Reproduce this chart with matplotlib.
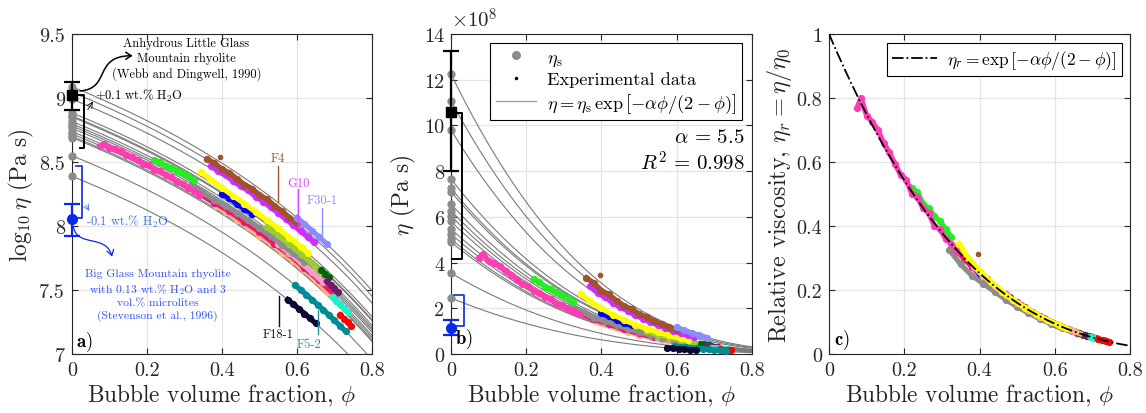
import numpy as np
import matplotlib

matplotlib.use("Agg")
import matplotlib.pyplot as plt
from matplotlib.lines import Line2D
from matplotlib.patches import FancyArrowPatch
from matplotlib.path import Path
from matplotlib.ticker import FormatStrFormatter, MultipleLocator

plt.rcParams["font.family"] = "cmr10"
plt.rcParams["mathtext.fontset"] = "cm"
plt.rcParams["axes.formatter.use_mathtext"] = True

ALPHA = 5.5
R2 = 0.998

# eta_s of each fitted sample, in 1e8 Pa s
ETA_S = [12.25, 11.08, 9.8, 7.66, 7.25, 7.1, 6.56, 6.27, 6.04, 5.8, 5.47,
         5.25, 5.03, 4.9, 3.54, 2.45]

# literature melt viscosities (1e8 Pa s): value, low, high
LGM_ETA, LGM_LO, LGM_HI = 10.6, 8.0, 13.25
BGM_ETA, BGM_LO, BGM_HI = 1.13, 0.83, 1.48

# experimental series: phi, relative viscosity eta/eta0, and eta0 (1e8 Pa s)
PEACH_PHI = [0.385, 0.41, 0.44, 0.47, 0.50, 0.53, 0.56, 0.59, 0.62, 0.65, 0.68, 0.70]
PEACH_ETAR = [0.272, 0.244, 0.212, 0.184, 0.158, 0.139, 0.117, 0.101, 0.085, 0.071, 0.058, 0.052]
PEACH_ETA0 = 5.3

CRIMSON_PHI = [0.34, 0.38, 0.42, 0.46, 0.50, 0.54, 0.58, 0.62, 0.66, 0.70]
CRIMSON_ETAR = [0.322, 0.272, 0.233, 0.192, 0.161, 0.130, 0.107, 0.084, 0.067, 0.052]
CRIMSON_ETA0 = 5.6

LPINK_PHI = [0.55, 0.58, 0.61, 0.64, 0.67]
LPINK_ETAR = [0.124, 0.106, 0.0895, 0.0751, 0.0626]
LPINK_ETA0 = 5.8

GRAY_PHI = [0.32, 0.35, 0.38, 0.41, 0.44, 0.47, 0.50, 0.53, 0.56, 0.59, 0.62]
GRAY_ETAR = [0.325, 0.280, 0.245, 0.220, 0.195, 0.170, 0.148, 0.128, 0.110, 0.094, 0.080]
GRAY_ETA0 = 6.5

BLUE_PHI = [0.40, 0.42, 0.44, 0.46, 0.48]
BLUE_ETAR = [0.250, 0.232, 0.210, 0.192, 0.176]
BLUE_ETA0 = 7.1

GREEN_PHI = [0.22, 0.235, 0.25, 0.265, 0.28, 0.295, 0.31, 0.325]
GREEN_ETAR = [0.520, 0.505, 0.470, 0.455, 0.430, 0.415, 0.390, 0.365]
GREEN_ETA0 = 6.27

PINK_PHI = [0.075, 0.085, 0.10, 0.115, 0.13, 0.145, 0.16, 0.175, 0.19, 0.205,
            0.22, 0.235, 0.25, 0.265, 0.28, 0.295, 0.31, 0.325, 0.34]
PINK_ETAR = [0.770, 0.800, 0.745, 0.725, 0.700, 0.660, 0.630, 0.595, 0.560, 0.545,
             0.500, 0.490, 0.455, 0.440, 0.400, 0.390, 0.360, 0.345, 0.320]
PINK_ETA0 = 5.47

YGREEN_PHI = [0.52, 0.55, 0.58, 0.61, 0.64, 0.665]
YGREEN_ETAR = [0.145, 0.124, 0.106, 0.0895, 0.0751, 0.0646]
YGREEN_ETA0 = 6.8

DGREEN_PHI = [0.665, 0.675, 0.685]
DGREEN_ETAR = [0.0646, 0.0607, 0.0570]
DGREEN_ETA0 = 7.0

YELLOW_PHI = [0.345, 0.37, 0.40, 0.43, 0.46, 0.49, 0.52, 0.55, 0.58, 0.61, 0.63]
YELLOW_ETAR = [0.345, 0.300, 0.260, 0.225, 0.195, 0.168, 0.145, 0.125, 0.106, 0.090, 0.080]
YELLOW_ETA0 = 7.66

MAGENTA_PHI = [0.37, 0.39, 0.41, 0.43, 0.45, 0.47, 0.49, 0.51, 0.53, 0.55, 0.57,
               0.59, 0.61, 0.63, 0.645]
MAGENTA_ETAR = [0.290, 0.262, 0.245, 0.220, 0.200, 0.186, 0.166, 0.152, 0.137,
                0.124, 0.111, 0.100, 0.089, 0.080, 0.073]
MAGENTA_ETA0 = 10.2

BROWN_PHI = [0.36, 0.38, 0.40, 0.42, 0.44, 0.46, 0.48, 0.50, 0.52, 0.54, 0.56, 0.58, 0.60]
BROWN_ETAR = [0.300, 0.280, 0.250, 0.235, 0.210, 0.190, 0.177, 0.158, 0.146, 0.130,
              0.118, 0.105, 0.095]
BROWN_ETA0 = 11.08
BROWN_OUT_PHI = [0.395]
BROWN_OUT_ETAR = [0.311]

PERI_PHI = [0.60, 0.62, 0.64, 0.66, 0.68]
PERI_ETAR = [0.0947, 0.0845, 0.0751, 0.0666, 0.0588]
PERI_ETA0 = 12.25

PURPLE_PHI = [0.68, 0.69, 0.70, 0.71]
PURPLE_ETAR = [0.0588, 0.0550, 0.0517, 0.0485]
PURPLE_ETA0 = 6.3

CYAN_PHI = [0.695, 0.705, 0.715, 0.725, 0.735]
CYAN_ETAR = [0.0534, 0.0500, 0.0469, 0.0438, 0.0410]
CYAN_ETA0 = 5.2

RED_PHI = [0.715, 0.725, 0.735, 0.745]
RED_ETAR = [0.0469, 0.0438, 0.0410, 0.0383]
RED_ETA0 = 4.3

TEAL_PHI = [0.595, 0.61, 0.625, 0.64, 0.655, 0.67, 0.685, 0.70, 0.715, 0.73]
TEAL_ETAR = [0.0974, 0.0895, 0.0821, 0.0751, 0.0687, 0.0626, 0.0570, 0.0517, 0.0469, 0.0424]
TEAL_ETA0 = 3.54

NAVY_PHI = [0.575, 0.59, 0.605, 0.62, 0.635, 0.65]
NAVY_ETAR = [0.1087, 0.1001, 0.0921, 0.0845, 0.0774, 0.0708]
NAVY_ETA0 = 2.45

PEACH = ("#FFB482", PEACH_PHI, PEACH_ETAR, PEACH_ETA0)
CRIMSON = ("#F01470", CRIMSON_PHI, CRIMSON_ETAR, CRIMSON_ETA0)
LPINK = ("#F5A0C8", LPINK_PHI, LPINK_ETAR, LPINK_ETA0)
GRAYS = ("#8C8C8C", GRAY_PHI, GRAY_ETAR, GRAY_ETA0)
BLUES = ("#0000FF", BLUE_PHI, BLUE_ETAR, BLUE_ETA0)
GREEN = ("#22EE22", GREEN_PHI, GREEN_ETAR, GREEN_ETA0)
PINK = ("#FF3CB4", PINK_PHI, PINK_ETAR, PINK_ETA0)
YGREEN = ("#9ACD32", YGREEN_PHI, YGREEN_ETAR, YGREEN_ETA0)
DGREEN = ("#006400", DGREEN_PHI, DGREEN_ETAR, DGREEN_ETA0)
YELLOW = ("#FFFF00", YELLOW_PHI, YELLOW_ETAR, YELLOW_ETA0)
MAGENTA = ("#D22DFF", MAGENTA_PHI, MAGENTA_ETAR, MAGENTA_ETA0)
BROWN = ("#A0522D", BROWN_PHI, BROWN_ETAR, BROWN_ETA0)
PERI = ("#8C8CFF", PERI_PHI, PERI_ETAR, PERI_ETA0)
PURPLE = ("#6E1E64", PURPLE_PHI, PURPLE_ETAR, PURPLE_ETA0)
CYAN = ("#1EF0C8", CYAN_PHI, CYAN_ETAR, CYAN_ETA0)
RED = ("#FF0000", RED_PHI, RED_ETAR, RED_ETA0)
TEAL = ("#008C96", TEAL_PHI, TEAL_ETAR, TEAL_ETA0)
NAVY = ("#0A0A32", NAVY_PHI, NAVY_ETAR, NAVY_ETA0)

ORDER_AB = [PEACH, CRIMSON, LPINK, GRAYS, BLUES, GREEN, PINK, YGREEN, DGREEN, YELLOW,
            MAGENTA, BROWN, PERI, PURPLE, CYAN, RED, TEAL, NAVY]
ORDER_C = [NAVY, TEAL, PERI, BROWN, MAGENTA, BLUES, LPINK, CRIMSON, YGREEN, DGREEN,
           GRAYS, GREEN, PINK, PEACH, YELLOW, PURPLE, CYAN, RED]

# sample labels on panel a: text, colour, phi, log10 eta (text), line top, line bottom, line phi
LABELS = [
    ("F4", "#A0522D", 0.549, 8.53, 8.47, 8.19, 0.549),
    ("G10", "#E040FF", 0.603, 8.34, 8.29, 7.99, 0.603),
    ("F30-1", "#8C8CFF", 0.667, 8.20, 8.14, 7.90, 0.667),
    ("F18-1", "#0A0A32", 0.550, 7.16, 7.45, 7.22, 0.553),
    ("F5-2", "#2A8C9A", 0.632, 7.08, 7.34, 7.16, 0.656),
]

GRAY = "#8C8C8C"
DARK = "#262626"
BLUE = "#0A28E6"
LBLUE = "#3C6EDC"
MS, LW = 4.2, 3.8
LABEL_FS = 16.8

phi_grid = np.linspace(0, 0.8, 241)
model = np.exp(-ALPHA * phi_grid / (2 - phi_grid))

fig = plt.figure(figsize=(11.46, 4.14), dpi=100)
ax_a = fig.add_axes([0.0628, 0.1425, 0.2618, 0.773])
ax_b = fig.add_axes([0.3935, 0.1425, 0.2627, 0.773])
ax_c = fig.add_axes([0.7234, 0.1425, 0.2627, 0.773])


def style_axes(ax):
    ax.set_xlim(0, 0.8)
    ax.xaxis.set_major_locator(MultipleLocator(0.2))
    ax.xaxis.set_major_formatter(FormatStrFormatter("%g"))
    ax.yaxis.set_major_formatter(FormatStrFormatter("%g"))
    ax.grid(True, color="#E4E4E4", lw=0.9)
    ax.set_axisbelow(True)
    ax.tick_params(direction="in", top=True, right=True, labelsize=14.5,
                   colors=DARK, length=4, width=0.8, pad=5)
    for sp in ax.spines.values():
        sp.set_color(DARK)
        sp.set_linewidth(0.8)
    ax.set_xlabel(r"Bubble volume fraction, $\phi$", fontsize=LABEL_FS, color=DARK,
                  labelpad=2)


def curved_arrow(ax, pts, color, lw):
    path = Path(pts, [Path.MOVETO, Path.CURVE4, Path.CURVE4, Path.CURVE4])
    ax.add_patch(FancyArrowPatch(path=path, arrowstyle="->,head_length=4,head_width=2.5",
                                 color=color, lw=lw, zorder=6))


# ---------- panel a ----------
ax = ax_a
for es in ETA_S:
    ax.plot(phi_grid, np.log10(es * 1e8 * model), color="#7A7A7A", lw=0.8, zorder=2)
for color, phi, etar, eta0 in ORDER_AB:
    ax.plot(phi, np.log10(np.array(etar) * eta0 * 1e8), "-o", color=color,
            ms=MS, lw=LW, zorder=3)
ax.plot(BROWN_OUT_PHI, np.log10(np.array(BROWN_OUT_ETAR) * BROWN_ETA0 * 1e8), "o",
        color="#A0522D", ms=3, zorder=3)
ax.plot(np.zeros(len(ETA_S)), np.log10(np.array(ETA_S) * 1e8), "o", color=GRAY,
        ms=5, zorder=4, clip_on=False)
ax.errorbar([0], [np.log10(LGM_ETA * 1e8)],
            yerr=[[np.log10(LGM_ETA / LGM_LO)], [np.log10(LGM_HI / LGM_ETA)]],
            fmt="s", color="k", ms=7, lw=1.6, capsize=6, capthick=1.6, zorder=6,
            clip_on=False)
ax.errorbar([0], [np.log10(BGM_ETA * 1e8)],
            yerr=[[np.log10(BGM_ETA / BGM_LO)], [np.log10(BGM_HI / BGM_ETA)]],
            fmt="o", color=BLUE, ms=7, lw=1.6, capsize=6, capthick=1.6, zorder=6,
            clip_on=False)
ax.plot([0.012, 0.032, 0.032, 0.022], [9.02, 9.02, 8.61, 8.61], color="k", lw=1.4, zorder=5)
ax.plot([0.012, 0.027, 0.027, 0.012], [8.47, 8.47, 8.06, 8.06], color=BLUE, lw=1.2, zorder=5)
curved_arrow(ax, [(0.021, 9.055), (0.105, 9.07), (0.055, 9.33), (0.162, 9.33)], "k", 1.1)
ax.text(0.305, 9.31, "Anhydrous Little Glass\nMountain rhyolite\n(Webb and Dingwell, 1990)",
        ha="center", va="center", fontsize=8.9, linespacing=1.25, color="k")
ax.annotate("", xy=(0.06, 8.99), xytext=(0.038, 8.89),
            arrowprops=dict(arrowstyle="->", color="k", lw=0.6))
ax.text(0.062, 9.025, r"+0.1 wt.% H$_2$O", fontsize=9.0, va="center", color="k")
ax.annotate("", xy=(0.05, 8.1), xytext=(0.033, 8.18),
            arrowprops=dict(arrowstyle="->", color=LBLUE, lw=0.6))
ax.text(0.037, 8.04, r"-0.1 wt.% H$_2$O", fontsize=9.0, va="center", color=LBLUE)
curved_arrow(ax, [(0.004, 7.99), (0.016, 7.83), (0.09, 7.94), (0.107, 7.76)], BLUE, 0.9)
ax.text(0.228, 7.465, "Big Glass Mountain rhyolite\nwith 0.13 wt.% H$_2$O and 3\n"
        "vol.% microlites\n(Stevenson et al., 1996)",
        ha="center", va="center", fontsize=8.4, linespacing=1.25, color="#3250F0")
for text, color, x, y, ytop, ybot, xl in LABELS:
    ax.text(x, y, text, color=color, fontsize=9, ha="center", va="center")
    ax.plot([xl, xl], [ytop, ybot], color=color, lw=1.0, zorder=5)
ax.text(0.012, 7.1, r"$\mathbf{a)}$", fontsize=13.5, va="center")
ax.set_ylim(7, 9.5)
ax.yaxis.set_major_locator(MultipleLocator(0.5))
style_axes(ax)
ax.set_ylabel(r"$\log_{10}\eta$ (Pa s)", fontsize=LABEL_FS, color=DARK, labelpad=2)

# ---------- panel b ----------
ax = ax_b
for es in ETA_S:
    ax.plot(phi_grid, es * model, color="#7A7A7A", lw=0.8, zorder=2)
for color, phi, etar, eta0 in ORDER_AB:
    ax.plot(phi, np.array(etar) * eta0, "-o", color=color, ms=MS, lw=LW, zorder=3)
ax.plot(BROWN_OUT_PHI, np.array(BROWN_OUT_ETAR) * BROWN_ETA0, "o", color="#A0522D",
        ms=3, zorder=3)
ax.plot(np.zeros(len(ETA_S)), ETA_S, "o", color=GRAY, ms=5, zorder=4, clip_on=False)
ax.errorbar([0], [LGM_ETA], yerr=[[LGM_ETA - LGM_LO], [LGM_HI - LGM_ETA]], fmt="s",
            color="k", ms=7, lw=1.6, capsize=6, capthick=1.6, zorder=6, clip_on=False)
ax.errorbar([0], [BGM_ETA], yerr=[[BGM_ETA - BGM_LO], [BGM_HI - BGM_ETA]], fmt="o",
            color=BLUE, ms=7, lw=1.6, capsize=6, capthick=1.6, zorder=6, clip_on=False)
ax.plot([0.008, 0.029, 0.029, 0.004], [10.55, 10.55, 4.15, 4.15], color="k", lw=1.4, zorder=5)
ax.plot([0.008, 0.035, 0.035, 0.01], [2.6, 2.6, 1.22, 1.22], color=BLUE, lw=1.2, zorder=5)
ax.text(0.781, 9.5, r"$\alpha\,=\,5.5$", fontsize=15, ha="right", va="center")
ax.text(0.781, 8.4, r"$R^2\,=\,%.3f$" % R2, fontsize=15, ha="right", va="center")
ax.text(0.012, 0.66, r"$\mathbf{b)}$", fontsize=13.5, va="center", zorder=7)
ax.text(0.0, 1.01, r"$\times 10^8$", transform=ax.transAxes, fontsize=15,
        va="bottom", ha="left", color=DARK)
handles = [
    Line2D([], [], ls="none", marker="o", color=GRAY, ms=5.5),
    Line2D([], [], ls="none", marker=".", color="k", ms=3),
    Line2D([], [], color="#A0A0A0", lw=1.0),
]
labels = [r"$\eta_\mathrm{s}$", "Experimental data",
          r"$\eta = \eta_\mathrm{s}\,\exp\left[-\alpha\phi/(2-\phi)\right]$"]
leg = ax.legend(handles, labels, loc="upper right", bbox_to_anchor=(0.968, 0.972),
                borderaxespad=0, fontsize=13.2, fancybox=False, framealpha=1,
                edgecolor="k", handlelength=2.2, borderpad=0.3, labelspacing=0.2,
                handletextpad=0.6)
leg.get_frame().set_linewidth(0.8)
ax.set_ylim(0, 14)
ax.yaxis.set_major_locator(MultipleLocator(2))
style_axes(ax)
ax.set_ylabel(r"$\eta$ (Pa s)", fontsize=LABEL_FS, color=DARK, labelpad=4)

# ---------- panel c ----------
ax = ax_c
for color, phi, etar, eta0 in ORDER_C:
    ax.plot(phi, etar, "-o", color=color, ms=MS, lw=LW, zorder=3)
ax.plot(BROWN_OUT_PHI, BROWN_OUT_ETAR, "o", color="#A0522D", ms=3, zorder=3)
ax.plot(phi_grid, model, "-.", color="k", lw=1.3, zorder=5,
        label=r"$\eta_r = \exp\left[-\alpha\phi/(2-\phi)\right]$")
leg = ax.legend(loc="upper right", bbox_to_anchor=(0.973, 0.972), borderaxespad=0,
                fontsize=12.5, fancybox=False, framealpha=1, edgecolor="k",
                handlelength=2.6, borderpad=0.3, handletextpad=0.6)
leg.get_frame().set_linewidth(0.8)
ax.text(0.012, 0.047, r"$\mathbf{c)}$", fontsize=13.5, va="center")
ax.set_ylim(0, 1)
ax.yaxis.set_major_locator(MultipleLocator(0.2))
style_axes(ax)
ax.set_ylabel(r"Relative viscosity, $\eta_r = \eta/\eta_0$", fontsize=17.5, color=DARK,
              labelpad=2)

fig.savefig("out.png", dpi=100)
